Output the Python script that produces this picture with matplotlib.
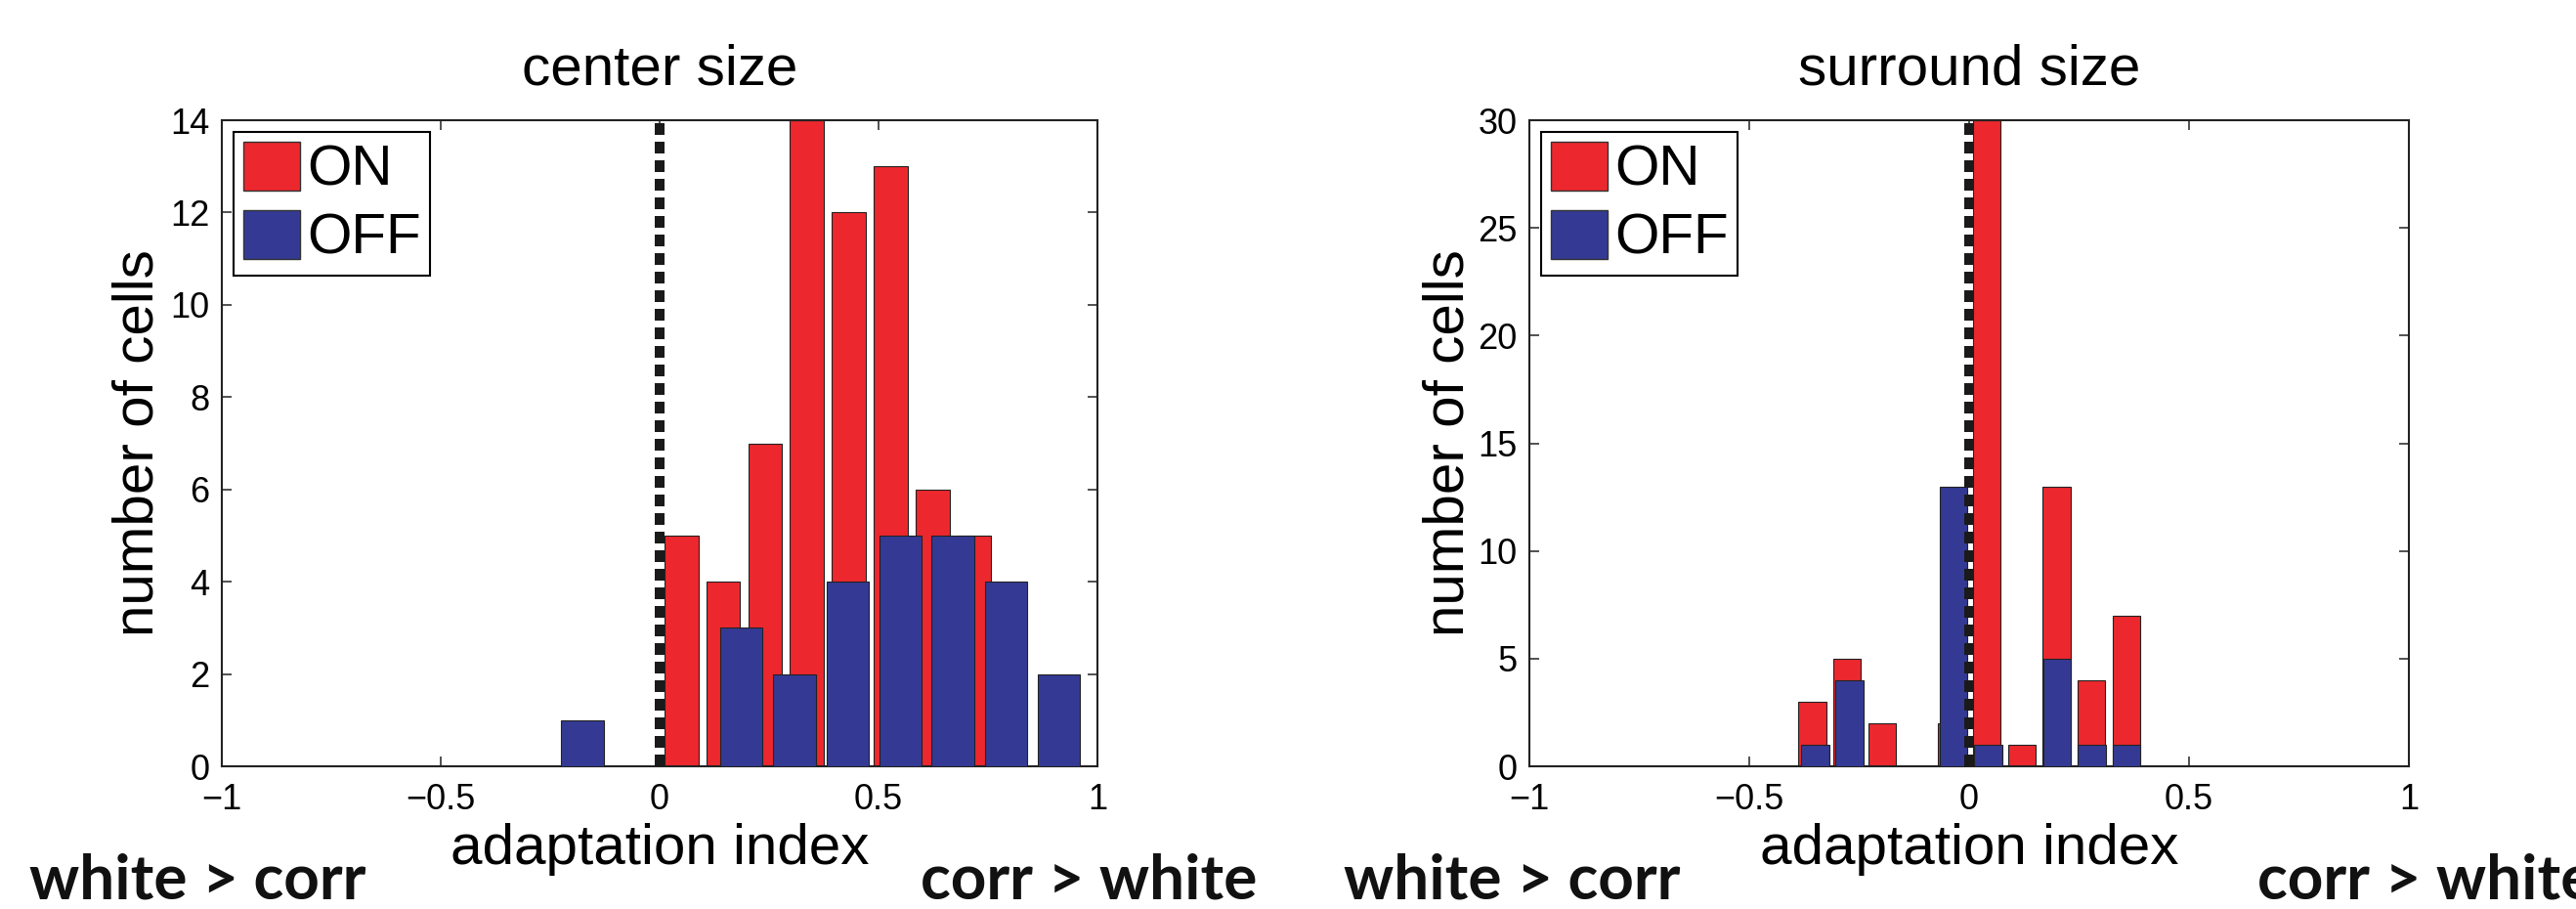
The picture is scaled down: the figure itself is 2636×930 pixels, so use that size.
import numpy as np
import matplotlib.pyplot as plt
from matplotlib.patches import Patch

# Histogram counts of the adaptation index, per cell type
on_centers_c = [0.050, 0.145, 0.241, 0.336, 0.432, 0.528, 0.624, 0.719]
on_counts_c = [5, 4, 7, 14, 12, 13, 6, 5]
off_centers_c = [-0.176, -0.055, 0.066, 0.187, 0.308, 0.429, 0.550, 0.670, 0.791, 0.912]
off_counts_c = [1, 0, 0, 3, 2, 4, 5, 5, 4, 2]

on_centers_s = [-0.357, -0.278, -0.198, -0.119, -0.039, 0.040, 0.120, 0.199, 0.278, 0.358]
on_counts_s = [3, 5, 2, 0, 2, 30, 1, 13, 4, 7]
off_centers_s = [-0.350, -0.272, -0.193, -0.115, -0.036, 0.043, 0.122, 0.200, 0.279, 0.358]
off_counts_s = [1, 4, 0, 0, 13, 1, 0, 5, 1, 1]

titles = ["center size", "surround size"]
yticks = [np.arange(0, 15, 2), np.arange(0, 31, 5)]
ylims = [14, 30]

RED = "#ec282e"
BLUE = "#343a94"

plt.rcParams['font.family'] = ['Liberation Sans', 'DejaVu Sans']

W, H = 2636, 930
fig = plt.figure(figsize=(W / 100, H / 100), dpi=100)

# axes boxes in pixels: left, right, top, bottom
boxes = [(227, 1123, 123, 784), (1565, 2465, 123, 784)]
ylabel_x = [-0.095, -0.092]
data = [(on_centers_c, on_counts_c, off_centers_c, off_counts_c),
        (on_centers_s, on_counts_s, off_centers_s, off_counts_s)]

for i, (l, r, t, b) in enumerate(boxes):
    ax = fig.add_axes([l / W, 1 - b / H, (r - l) / W, (b - t) / H])
    on_x, on_y, off_x, off_y = data[i]
    on_w = 0.8 * np.mean(np.diff(on_x))
    off_w = 0.8 * np.mean(np.diff(off_x))
    ax.bar(on_x, on_y, width=on_w, color=RED, edgecolor='#222222', linewidth=0.8, zorder=2)
    ax.bar(off_x, off_y, width=off_w, color=BLUE, edgecolor='#222222', linewidth=0.8, zorder=3)
    ax.axvline(0, color='#1a1a1a', lw=7.2, linestyle=(0, (1.2, 0.7)), zorder=4)

    ax.set_xlim(-1, 1)
    ax.set_ylim(0, ylims[i])
    ax.set_xticks([-1, -0.5, 0, 0.5, 1])
    ax.set_xticklabels(['\u22121', '\u22120.5', '0', '0.5', '1'])
    ax.set_yticks(yticks[i])
    ax.tick_params(direction='in', length=7, width=1.2, top=True, right=True,
                   labelsize=26, pad=9, color='#333333')
    ax.tick_params(axis='x', pad=12)
    for s in ax.spines.values():
        s.set_linewidth(1.5)
        s.set_color('#222222')

    ax.set_title(titles[i], fontsize=42, pad=26)
    ax.set_xlabel("adaptation index", fontsize=42)
    ax.xaxis.set_label_coords(0.5, -0.151)
    ax.xaxis.label.set_va('baseline')
    ax.set_ylabel("number of cells", fontsize=42)
    ax.yaxis.set_label_coords(ylabel_x[i], 0.5)
    ax.yaxis.label.set_va('center')

    handles = [Patch(facecolor=RED, edgecolor='#333333', linewidth=1),
               Patch(facecolor=BLUE, edgecolor='#333333', linewidth=1)]
    leg = ax.legend(handles, ['ON', 'OFF'], loc='upper left', fontsize=42,
                    handlelength=1.0, handleheight=0.95, handletextpad=0.12,
                    borderpad=0.17, borderaxespad=0.2, labelspacing=0.22,
                    fancybox=False, framealpha=1, edgecolor='black')
    leg.get_frame().set_linewidth(1.5)
    leg.set_zorder(5)

# direction annotations under each panel
for x, s, ha in [(30, "white > corr", 'left'), (1286, "corr > white", 'right'),
                 (1375, "white > corr", 'left'), (2310, "corr > white", 'left')]:
    fig.text(x / W, 1 - 919 / H, s, ha=ha, va='baseline', fontsize=46,
             fontweight='bold', family=['Lato', 'DejaVu Sans'], color='#111111')

fig.savefig("out.png", dpi=100)
